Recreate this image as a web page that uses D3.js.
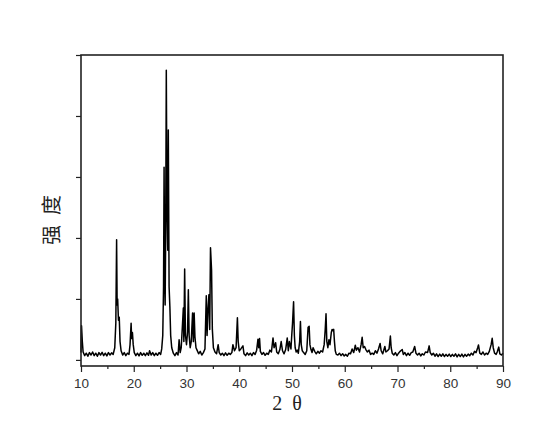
<!DOCTYPE html>
<html>
<head>
<meta charset="utf-8">
<script src="https://cdn.jsdelivr.net/npm/d3@7"></script>
<style>
  body { margin: 0; background: #fff; }
  svg { display: block; }
</style>
</head>
<body>
<svg width="548" height="441"></svg>
<script>
// XRD pattern: [2theta, intensity]
var pattern = [
  [10.0,120],[10.1,560],[10.25,300],[10.4,130],[10.7,70],[11.0,110],[11.3,60],[11.6,120],[11.9,80],
  [12.2,130],[12.5,70],[12.8,110],[13.1,60],[13.4,120],[13.7,80],[14.0,125],[14.3,70],[14.6,110],
  [14.9,65],[15.2,120],[15.5,80],[15.8,115],[16.1,90],[16.4,200],[16.6,600],[16.75,1970],[16.85,900],
  [16.95,1000],[17.1,650],[17.25,700],[17.4,300],[17.6,150],[17.9,80],[18.2,120],[18.5,70],[18.8,110],
  [19.1,90],[19.3,250],[19.5,600],[19.6,350],[19.75,450],[19.9,250],[20.1,120],[20.4,70],[20.7,110],
  [21.0,65],[21.3,120],[21.6,75],[21.9,110],[22.2,70],[22.5,115],[22.8,75],[23.0,150],[23.3,80],
  [23.6,120],[23.9,70],[24.2,110],[24.5,75],[24.8,120],[25.1,90],[25.3,180],[25.5,400],[25.65,1200],
  [25.75,3160],[25.85,1500],[25.95,900],[26.05,2000],[26.17,4750],[26.3,2500],[26.45,1800],[26.55,3770],
  [26.7,1200],[26.85,870],[27.0,400],[27.2,200],[27.5,110],[27.8,70],[28.1,120],[28.4,80],[28.6,330],
  [28.8,120],[29.0,200],[29.25,600],[29.4,850],[29.5,300],[29.65,1490],[29.8,400],[30.0,250],[30.2,460],
  [30.35,1150],[30.5,400],[30.7,200],[30.9,300],[31.15,770],[31.3,300],[31.45,770],[31.6,380],[31.8,200],
  [32.0,160],[32.3,100],[32.6,140],[32.9,80],[33.2,120],[33.5,180],[33.75,1050],[33.9,400],[34.05,800],
  [34.25,1070],[34.4,500],[34.55,1840],[34.75,1475],[34.9,500],[35.1,200],[35.4,130],[35.7,100],
  [36.0,250],[36.2,120],[36.5,80],[36.8,110],[37.1,70],[37.4,115],[37.7,75],[38.0,110],[38.3,90],
  [38.6,120],[38.8,250],[39.1,150],[39.4,200],[39.65,690],[39.8,300],[40.0,150],[40.3,180],[40.7,230],
  [40.9,100],[41.2,70],[41.5,115],[41.8,80],[42.1,110],[42.4,70],[42.7,120],[43.0,90],[43.3,160],
  [43.55,340],[43.7,200],[43.85,350],[44.0,140],[44.3,90],[44.6,120],[44.9,75],[45.2,110],[45.5,90],
  [45.8,160],[46.1,130],[46.4,360],[46.6,200],[46.9,280],[47.1,130],[47.4,100],[47.7,170],[47.95,300],
  [48.2,150],[48.5,100],[48.8,170],[49.1,360],[49.3,150],[49.5,300],[49.8,180],[49.95,400],[50.1,600],
  [50.3,955],[50.45,400],[50.6,200],[50.8,130],[51.0,160],[51.2,110],[51.45,300],[51.6,630],[51.75,250],
  [51.95,150],[52.2,120],[52.5,90],[52.8,150],[53.05,535],[53.25,550],[53.4,250],[53.6,170],[53.8,120],
  [54.0,200],[54.3,140],[54.6,100],[54.9,140],[55.2,110],[55.5,150],[55.8,130],[56.1,250],[56.3,500],
  [56.45,755],[56.6,300],[56.8,200],[57.0,330],[57.2,250],[57.45,450],[57.6,500],[57.75,480],[57.9,500],
  [58.05,300],[58.2,150],[58.4,90],[58.7,80],[59.0,110],[59.3,70],[59.6,100],[59.9,65],[60.2,90],
  [60.5,60],[60.8,110],[61.1,100],[61.4,180],[61.7,120],[62.0,240],[62.2,160],[62.5,200],[62.8,130],
  [63.1,250],[63.3,370],[63.5,200],[63.75,220],[64.0,170],[64.3,130],[64.6,160],[64.9,90],[65.2,110],
  [65.5,90],[65.8,150],[66.1,110],[66.4,180],[66.7,270],[66.9,150],[67.2,100],[67.6,220],[67.8,130],
  [68.1,150],[68.4,180],[68.65,390],[68.8,200],[69.0,110],[69.3,80],[69.6,120],[69.9,70],[70.2,110],
  [70.5,140],[70.9,170],[71.1,90],[71.4,120],[71.7,70],[72.0,110],[72.3,75],[72.6,120],[72.9,130],
  [73.25,220],[73.5,110],[73.8,80],[74.1,110],[74.4,65],[74.7,100],[75.0,80],[75.3,130],[75.7,120],
  [76.0,230],[76.2,120],[76.5,80],[76.8,110],[77.1,60],[77.4,100],[77.7,55],[78.0,95],[78.3,60],
  [78.6,100],[78.9,55],[79.2,90],[79.5,60],[79.8,95],[80.1,55],[80.4,90],[80.7,60],[81.0,100],
  [81.3,50],[81.6,90],[81.9,55],[82.2,95],[82.5,50],[82.8,90],[83.1,60],[83.4,95],[83.7,70],
  [84.0,110],[84.3,80],[84.6,140],[84.9,120],[85.2,200],[85.35,245],[85.6,110],[85.9,90],[86.2,130],
  [86.5,80],[86.8,110],[87.1,90],[87.4,140],[87.75,250],[87.95,355],[88.15,200],[88.4,110],[88.7,90],
  [88.9,130],[89.2,210],[89.4,100],[89.7,80],[90.0,110]
];

var xTicks = [10, 20, 30, 40, 50, 60, 70, 80, 90];
var xMinorTicks = [15, 25, 35, 45, 55, 65, 75, 85];
var yTicks = [0, 1000, 2000, 3000, 4000, 5000];

var svg = d3.select("svg");
var plotLeft = 81, plotRight = 503, plotTop = 55, plotBottom = 366;

var x = d3.scaleLinear().domain([10, 90]).range([plotLeft, plotRight]);
var y = d3.scaleLinear().domain([-100, 5000]).range([plotBottom, plotTop]);

// data trace
var line = d3.line()
  .x(function(d) { return x(d[0]); })
  .y(function(d) { return y(d[1]); });

svg.append("path")
  .datum(pattern)
  .attr("fill", "none")
  .attr("stroke", "#000")
  .attr("stroke-width", 1.5)
  .attr("stroke-linejoin", "round")
  .attr("d", line);

// frame
svg.append("rect")
  .attr("x", plotLeft)
  .attr("y", plotTop)
  .attr("width", plotRight - plotLeft)
  .attr("height", plotBottom - plotTop)
  .attr("fill", "none")
  .attr("stroke", "#222")
  .attr("stroke-width", 1.6);

// x axis
var xAxis = svg.append("g")
  .attr("transform", "translate(0," + plotBottom + ")")
  .call(d3.axisBottom(x).tickValues(xTicks).tickSize(6).tickPadding(6).tickFormat(d3.format("d")));
xAxis.select(".domain").remove();
xAxis.selectAll("line").attr("stroke", "#222").attr("stroke-width", 1.2);
xAxis.selectAll("text")
  .attr("font-family", "Arial, 'Liberation Sans', sans-serif")
  .attr("font-size", 13.5)
  .attr("fill", "#333");

var xMinor = svg.append("g")
  .attr("transform", "translate(0," + plotBottom + ")")
  .call(d3.axisBottom(x).tickValues(xMinorTicks).tickSize(3).tickFormat(""));
xMinor.select(".domain").remove();
xMinor.selectAll("line").attr("stroke", "#222").attr("stroke-width", 1.2);

// y axis, ticks only
var yAxis = svg.append("g")
  .attr("transform", "translate(" + plotLeft + ",0)")
  .call(d3.axisLeft(y).tickValues(yTicks).tickSize(5).tickFormat(""));
yAxis.select(".domain").remove();
yAxis.selectAll("line").attr("stroke", "#222").attr("stroke-width", 1.2);

// axis titles
svg.append("text")
  .attr("x", 287)
  .attr("y", 410)
  .attr("text-anchor", "middle")
  .attr("font-family", "'Liberation Serif', 'DejaVu Serif', serif")
  .attr("font-size", 20)
  .attr("fill", "#222")
  .text("2\u2002θ");

svg.append("text")
  .attr("transform", "translate(59,220) rotate(-90)")
  .attr("text-anchor", "middle")
  .attr("font-family", "'Noto Sans CJK SC', sans-serif")
  .attr("font-size", 20)
  .attr("fill", "#222")
  .text("强\u2002度");
</script>
</body>
</html>
